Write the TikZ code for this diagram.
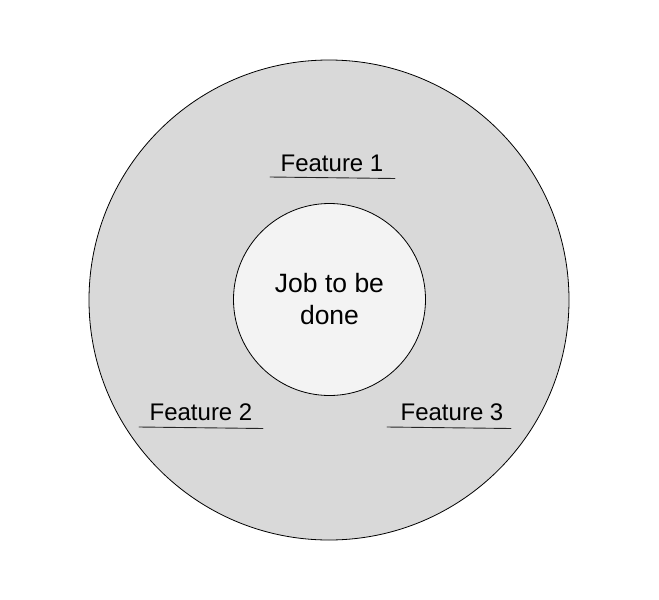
\documentclass[tikz,border=0pt]{standalone}
\usepackage{fontspec}
\setmainfont{Liberation Sans}
\definecolor{outergray}{HTML}{D9D9D9}
\definecolor{innergray}{HTML}{F3F3F3}
\tikzset{
  feat/.style={font=\fontsize{24}{28}\selectfont, inner sep=0pt},
  featline/.style={line width=0.9pt, black!85},
}
\begin{document}
\begin{tikzpicture}[x=1pt, y=-1pt, line join=round, line cap=round]
\useasboundingbox (0,0) rectangle (659,600);
% circles
\draw[fill=outergray, line width=0.8pt] (329,300) circle (240);
\node[circle, draw, fill=innergray, line width=0.8pt, minimum size=192pt, inner sep=0pt,
      align=center, font=\fontsize{26.5}{32}\selectfont] (job) at (329.5,299.5) {Job to be\\done};
% features
\node[feat] (f1) at (332,163) {Feature 1};
\node[feat] (f2) at (201,412) {Feature 2};
\node[feat] (f3) at (452,412) {Feature 3};
\draw[featline] (270,177) -- (395,178.5);
\draw[featline] (139,427) -- (263,428.5);
\draw[featline] (387,427) -- (511,428.5);
\end{tikzpicture}
\end{document}
